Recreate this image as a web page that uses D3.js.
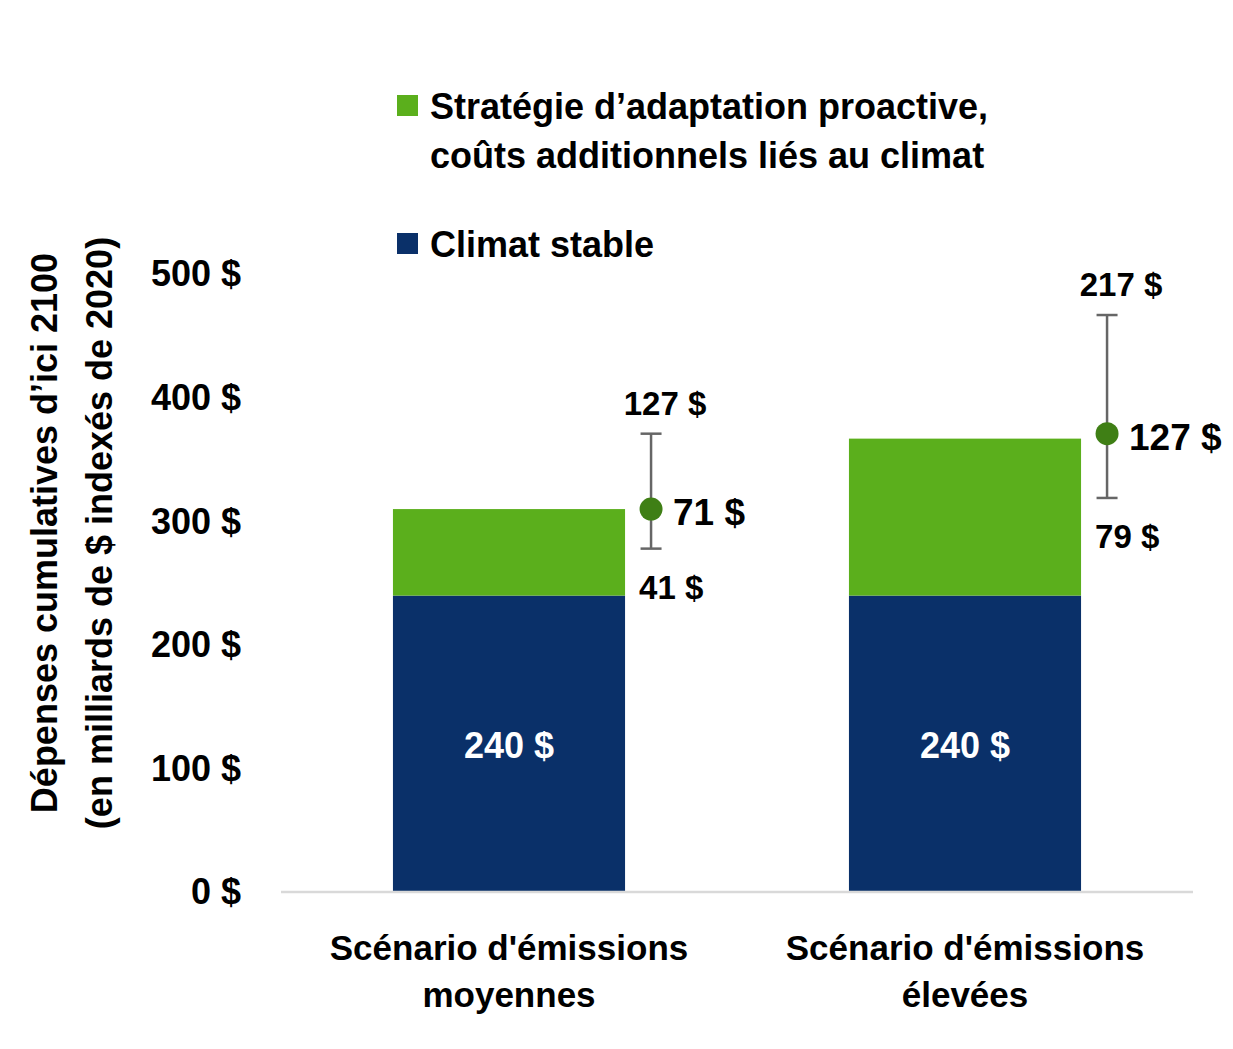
<!DOCTYPE html>
<html><head><meta charset="utf-8">
<script src="https://cdn.jsdelivr.net/npm/d3@7"></script>
<style>
body{margin:0;background:#fff;}
text{font-family:"Liberation Sans Narrow","Arial Narrow","Liberation Sans",sans-serif;font-weight:bold;fill:#000;}
.tick text{font-family:"Liberation Sans",Arial,sans-serif;}
</style></head><body>
<svg id="c" width="1233" height="1049"></svg>
<script>
const categories = [["Scénario d'émissions","moyennes"],["Scénario d'émissions","élevées"]];
const stableValues = [239, 239];
const adaptValues = [70, 127];
const dotValues = [309, 370];
const errLow = [277, 318];
const errHigh = [370, 466];
const stableLabels = ["240 $","240 $"];
const midLabels = ["71 $","127 $"];
const lowLabels = ["41 $","79 $"];
const highLabels = ["127 $","217 $"];
const yTicks = [0,100,200,300,400,500];
const legendItems = [
  {lines:["Stratégie d’adaptation proactive,","coûts additionnels liés au climat"], color:"#5BAF1C"},
  {lines:["Climat stable"], color:"#0A3069"}
];
const yTitle = ["Dépenses cumulatives d’ici 2100","(en milliards de $ indexés de 2020)"];

const svg = d3.select("#c");
const x = d3.scaleBand().domain(d3.range(categories.length)).range([281,1193]).paddingInner(0.491).paddingOuter(0.2455);
const y = d3.scaleLinear().domain([0,500]).range([891,273]);

// y axis labels
const ya = svg.append("g").attr("transform","translate(241,0)")
  .call(d3.axisLeft(y).tickValues(yTicks).tickSize(0).tickPadding(0).tickFormat(d=>d+" $"));
ya.select(".domain").remove();
ya.selectAll("text").attr("font-size",36).attr("dy","0.36em").attr("fill","#000");

// bars
const g = svg.append("g");
g.selectAll(".s").data(stableValues).join("rect")
  .attr("x",(d,i)=>x(i)).attr("width",x.bandwidth())
  .attr("y",d=>y(d)).attr("height",d=>y(0)-y(d)).attr("fill","#0A3069");
g.selectAll(".a").data(adaptValues).join("rect")
  .attr("x",(d,i)=>x(i)).attr("width",x.bandwidth())
  .attr("y",(d,i)=>y(stableValues[i]+d)).attr("height",(d,i)=>y(stableValues[i])-y(stableValues[i]+d)).attr("fill","#5BAF1C");

// axis line
svg.append("line").attr("x1",281).attr("x2",1193).attr("y1",y(0)+1).attr("y2",y(0)+1)
  .attr("stroke","#D9D9D9").attr("stroke-width",2.5);

// stable labels
g.selectAll(".sl").data(stableLabels).join("text")
  .attr("x",(d,i)=>x(i)+x.bandwidth()/2).attr("y",(d,i)=>y(stableValues[i]/2)+15)
  .attr("text-anchor","middle").attr("font-size",36).style("fill","#fff").text(d=>d);

// error bars
const ex = i => x(i)+x.bandwidth()+26;
categories.forEach((c,i)=>{
  const e = svg.append("g");
  e.append("line").attr("x1",ex(i)).attr("x2",ex(i)).attr("y1",y(errHigh[i])).attr("y2",y(errLow[i])).attr("stroke","#666").attr("stroke-width",2.5);
  [errHigh[i],errLow[i]].forEach(v=>{
    e.append("line").attr("x1",ex(i)-10.5).attr("x2",ex(i)+10.5).attr("y1",y(v)).attr("y2",y(v)).attr("stroke","#666").attr("stroke-width",2.5);
  });
  e.append("circle").attr("cx",ex(i)).attr("cy",y(dotValues[i])).attr("r",11.5).attr("fill","#3F7F15");
  e.append("text").attr("x",ex(i)+14).attr("y",y(errHigh[i])-19).attr("text-anchor","middle").attr("font-size",33).text(highLabels[i]);
  e.append("text").attr("x",ex(i)+22).attr("y",y(dotValues[i])+16).attr("font-size",37).text(midLabels[i]);
  e.append("text").attr("x",ex(i)-12).attr("y",y(errLow[i])+50).attr("font-size",33).text(lowLabels[i]);
});

// x labels
categories.forEach((c,i)=>{
  const t = svg.append("text").attr("text-anchor","middle").attr("font-size",35);
  c.forEach((ln,j)=>t.append("tspan").attr("x",x(i)+x.bandwidth()/2).attr("y",960+j*47).text(ln));
});

// legend
const legY = [117, 255];
legendItems.forEach((it,k)=>{
  svg.append("rect").attr("x",397).attr("y",legY[k]-22).attr("width",21).attr("height",21).attr("fill",it.color);
  const t = svg.append("text").attr("font-size",36);
  it.lines.forEach((ln,j)=>t.append("tspan").attr("x",430).attr("y",legY[k]+2+j*49).text(ln));
});

// y title
const yt = svg.append("text").attr("transform","translate(0,533) rotate(-90)").attr("text-anchor","middle").attr("font-size",36);
yTitle.forEach((ln,j)=>yt.append("tspan").attr("x",0).attr("y",57+j*55).text(ln));
</script></body></html>
